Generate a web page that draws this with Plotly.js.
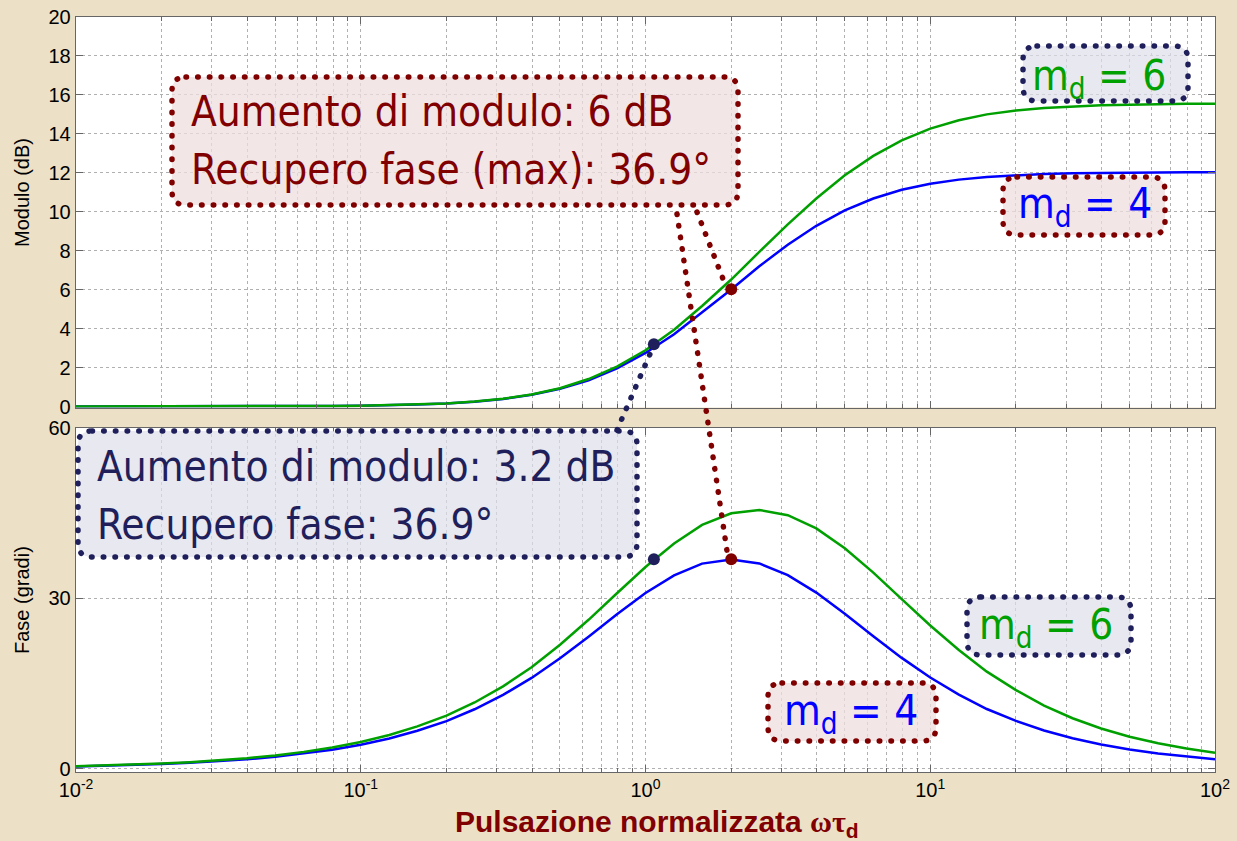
<!DOCTYPE html>
<html><head><meta charset="utf-8">
<script src="https://cdn.plot.ly/plotly-3.0.1.min.js"></script>
<style>html,body{margin:0;padding:0;background:#ece1c6;}#plot{width:1237px;height:841px;}</style>
</head><body><div id="plot"></div>
<script>
// ---- data ----
const omega = [0.01,0.0126,0.0158,0.02,0.0251,0.0316,0.0398,0.0501,0.0631,0.0794,0.1,0.126,0.158,0.2,0.251,0.316,0.398,0.501,0.631,0.794,1,1.26,1.58,2,2.51,3.16,3.98,5.01,6.31,7.94,10,12.6,15.8,20,25.1,31.6,39.8,50.1,63.1,79.4,100];
const mod4 = [0,0,0,0,0,0,0.01,0.01,0.02,0.03,0.04,0.06,0.10,0.16,0.25,0.39,0.60,0.91,1.35,1.96,2.75,3.71,4.82,6.01,7.20,8.31,9.28,10.07,10.68,11.13,11.44,11.65,11.79,11.88,11.94,11.98,12.00,12.02,12.03,12.03,12.03];
const mod6 = [0,0,0,0,0,0,0.01,0.01,0.02,0.03,0.04,0.07,0.10,0.16,0.26,0.40,0.62,0.94,1.41,2.05,2.89,3.94,5.16,6.52,7.94,9.35,10.68,11.87,12.87,13.67,14.27,14.70,15.00,15.20,15.33,15.41,15.47,15.50,15.53,15.54,15.55];
const ph4 = [0.43,0.54,0.68,0.86,1.08,1.36,1.71,2.15,2.71,3.40,4.28,5.37,6.74,8.43,10.51,13.03,16.02,19.48,23.29,27.23,30.96,34.07,36.14,36.87,36.17,34.12,31.04,27.31,23.37,19.55,16.09,13.09,10.55,8.47,6.77,5.40,4.30,3.42,2.72,2.16,1.72];
const ph6 = [0.48,0.60,0.76,0.95,1.20,1.51,1.90,2.39,3.01,3.78,4.76,5.97,7.49,9.38,11.70,14.53,17.91,21.85,26.25,30.92,35.54,39.69,42.95,44.99,45.58,44.66,42.34,38.84,34.55,29.89,25.25,20.94,17.13,13.87,11.15,8.93,7.13,5.68,4.52,3.60,2.86];
// highlighted points: [m=4 max phase, m=6 same phase]
const markW = [2, 1.07];
const markMod = [6.02, 3.2];
const markPh = [36.9, 36.9];
const markColors = ['#800000', '#1f1f5c'];
// tick labels
const xTickVals = [0.01, 0.1, 1, 10, 100];
const xTickText = ['10<sup>-2</sup>','10<sup>-1</sup>','10<sup>0</sup>','10<sup>1</sup>','10<sup>2</sup>'];
const phTickVals = [0, 30, 60];
const texts = {
  box1a: 'Aumento di modulo: 6 dB',
  box1b: 'Recupero fase (max): 36.9°',
  box2a: 'Aumento di modulo: 3.2 dB',
  box2b: 'Recupero fase: 36.9°',
  m6: 'm<sub>d</sub>\u2004=\u20046',
  m4: 'm<sub>d</sub>\u2004=\u20044',
  ylab1: 'Modulo (dB)',
  ylab2: 'Fase (gradi)',
  xlab: 'Pulsazione normalizzata <span style="font-family:Liberation Serif, serif">ωτ</span><sub>d</sub>'
};

// ---- layout helpers ----
const L = 76, R = 1215, T = 17, B = 772;
const px = x => (x - L) / (R - L);
const py = y => (B - y) / (B - T);
function P(x, y) { return px(x).toFixed(5) + ',' + py(y).toFixed(5); }
function rrect(x0, y0, x1, y1, r) {
  return 'M' + P(x0 + r, y0) + ' L' + P(x1 - r, y0) + ' Q' + P(x1, y0) + ' ' + P(x1, y0 + r) +
    ' L' + P(x1, y1 - r) + ' Q' + P(x1, y1) + ' ' + P(x1 - r, y1) +
    ' L' + P(x0 + r, y1) + ' Q' + P(x0, y1) + ' ' + P(x0, y1 - r) +
    ' L' + P(x0, y0 + r) + ' Q' + P(x0, y0) + ' ' + P(x0 + r, y0) + ' Z';
}
const RED = '#800000', NAVY = '#1f1f5c';
const PINK = 'rgba(238,222,222,0.75)', LAV = 'rgba(222,222,234,0.7)';
const DOTS = '0.5px,11.2px';
function box(x0, y0, x1, y1, col, fill) {
  return {type:'path', xref:'paper', yref:'paper', path: rrect(x0, y0, x1, y1, 14),
    fillcolor: fill, line:{color: col, width: 5.5, dash: DOTS}};
}
function conn(x0, y0, x1, y1, col) {
  return {type:'line', xref:'paper', yref:'paper', x0: px(x0), y0: py(y0), x1: px(x1), y1: py(y1),
    line:{color: col, width: 5.5, dash: DOTS}};
}

const minorVals = [];
[0.01, 0.1, 1, 10].forEach(d => { for (let k = 2; k <= 9; k++) minorVals.push(+(k * d).toPrecision(3)); });

const gridCol = '#b0b0b0';
const axisCol = '#666666';
const tickFont = {family:'Liberation Sans, Arial, sans-serif', size:20, color:'#000'};
const xBase = {
  type:'log', range:[-2, 2], tickmode:'array', tickvals: xTickVals, ticktext: xTickText,
  showgrid:true, gridcolor: gridCol, griddash:'dot', gridwidth:1,
  minor:{tickmode:'array', tickvals: minorVals, showgrid:true, gridcolor: gridCol, griddash:'dot', gridwidth:1,
         ticks:'inside', ticklen:4, tickcolor: axisCol},
  ticks:'inside', ticklen:7, tickcolor: axisCol, showline:true, linecolor: axisCol, linewidth:1.3,
  mirror:'ticks', zeroline:false, tickfont: tickFont
};

const fine = {family:'DejaVu Sans Condensed, DejaVu Sans, sans-serif', size:42};
const traces = [
  {x: omega, y: ph4, xaxis:'x', yaxis:'y', mode:'lines', line:{color:'#0000ff', width:2.5}, name:'m4 fase'},
  {x: omega, y: ph6, xaxis:'x', yaxis:'y', mode:'lines', line:{color:'#00a000', width:2.5}, name:'m6 fase'},
  {x: omega, y: mod4, xaxis:'x2', yaxis:'y2', mode:'lines', line:{color:'#0000ff', width:2.5}, name:'m4 modulo'},
  {x: omega, y: mod6, xaxis:'x2', yaxis:'y2', mode:'lines', line:{color:'#00a000', width:2.5}, name:'m6 modulo'},
  {x: markW, y: markMod, xaxis:'x2', yaxis:'y2', mode:'markers', marker:{color: markColors, size:12}, name:'pt mod'},
  {x: markW, y: markPh, xaxis:'x', yaxis:'y', mode:'markers', marker:{color: markColors, size:12}, name:'pt fase'}
];

const layout = {
  width:1237, height:841, showlegend:false,
  paper_bgcolor:'#ece1c6', plot_bgcolor:'#ffffff',
  margin:{l:L, r:1237 - R, t:T, b:841 - B},
  xaxis: Object.assign({}, xBase, {anchor:'y', domain:[0,1]}),
  xaxis2: Object.assign({}, xBase, {anchor:'y2', domain:[0,1], matches:'x', showticklabels:false}),
  yaxis: {domain:[0, py(428)], range:[-0.53, 60], tickmode:'array', tickvals: phTickVals,
    showgrid:true, gridcolor: gridCol, griddash:'dot', ticks:'inside', ticklen:7, tickcolor: axisCol,
    showline:true, linecolor: axisCol, linewidth:1.3, mirror:'ticks', zeroline:false, tickfont: tickFont},
  yaxis2: {domain:[py(407.5), 1], range:[-0.05, 20], dtick:2, tick0:0,
    showgrid:true, gridcolor: gridCol, griddash:'dot', ticks:'inside', ticklen:7, tickcolor: axisCol,
    showline:true, linecolor: axisCol, linewidth:1.3, mirror:'ticks', zeroline:false, tickfont: tickFont},
  shapes: [
    box(172, 77, 738, 205, RED, PINK),
    box(78, 431, 637, 557, NAVY, LAV),
    box(1023, 46, 1188, 101, NAVY, LAV),
    box(1003, 177, 1165, 235, RED, PINK),
    box(967, 597, 1131, 655, NAVY, LAV),
    box(768, 683, 936, 741, RED, PINK),
    conn(697, 212, 725, 284, RED),
    conn(677, 214, 727, 551, RED),
    conn(617, 430, 650, 354, NAVY)
  ],
  annotations: [
    {text: texts.box1a, xref:'paper', yref:'paper', x: px(189), y: py(112), xanchor:'left', yanchor:'middle', showarrow:false, font: Object.assign({}, fine, {color: RED})},
    {text: texts.box1b, xref:'paper', yref:'paper', x: px(189), y: py(170), xanchor:'left', yanchor:'middle', showarrow:false, font: Object.assign({}, fine, {color: RED})},
    {text: texts.box2a, xref:'paper', yref:'paper', x: px(95), y: py(466), xanchor:'left', yanchor:'middle', showarrow:false, font: Object.assign({}, fine, {color: NAVY})},
    {text: texts.box2b, xref:'paper', yref:'paper', x: px(95), y: py(524), xanchor:'left', yanchor:'middle', showarrow:false, font: Object.assign({}, fine, {color: NAVY})},
    {text: texts.m6, xref:'paper', yref:'paper', x: px(1099), y: py(78), xanchor:'center', yanchor:'middle', showarrow:false, font: Object.assign({}, fine, {color:'#00a000'})},
    {text: texts.m4, xref:'paper', yref:'paper', x: px(1085), y: py(207), xanchor:'center', yanchor:'middle', showarrow:false, font: Object.assign({}, fine, {color:'#0000ff'})},
    {text: texts.m6, xref:'paper', yref:'paper', x: px(1046), y: py(627), xanchor:'center', yanchor:'middle', showarrow:false, font: Object.assign({}, fine, {color:'#00a000'})},
    {text: texts.m4, xref:'paper', yref:'paper', x: px(851), y: py(713), xanchor:'center', yanchor:'middle', showarrow:false, font: Object.assign({}, fine, {color:'#0000ff'})},
    {text: texts.ylab1, xref:'paper', yref:'paper', x: px(22), y: py(192), xanchor:'center', yanchor:'middle', textangle:-90, showarrow:false, font:{family:'Liberation Sans, Arial, sans-serif', size:20, color:'#000'}},
    {text: texts.ylab2, xref:'paper', yref:'paper', x: px(22), y: py(600), xanchor:'center', yanchor:'middle', textangle:-90, showarrow:false, font:{family:'Liberation Sans, Arial, sans-serif', size:20, color:'#000'}},
    {text: '<b>' + texts.xlab + '</b>', xref:'paper', yref:'paper', x: px(657), y: py(823), xanchor:'center', yanchor:'middle', showarrow:false, font:{family:'Liberation Sans, Arial, sans-serif', size:30, color: RED}}
  ]
};

Plotly.newPlot('plot', traces, layout, {staticPlot:true, displayModeBar:false}).then(gd => {
  gd.querySelectorAll('.shapelayer path').forEach(p => { p.style.strokeLinecap = 'round'; });
});
</script></body></html>
